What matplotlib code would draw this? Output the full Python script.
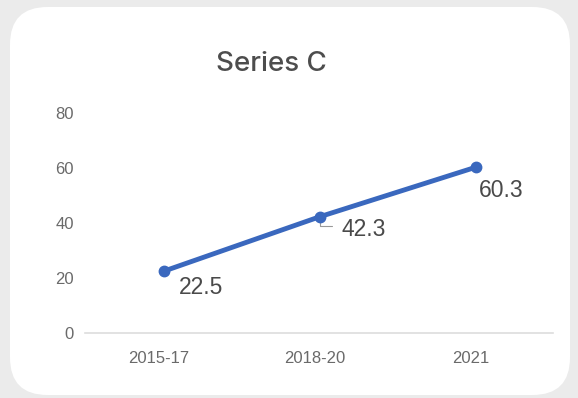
import matplotlib.pyplot as plt
from matplotlib.patches import FancyBboxPatch
from matplotlib.transforms import ScaledTranslation

# Data
categories = ['2015-17', '2018-20', '2021']
values = [22.5, 42.3, 60.3]
label_offsets = [(26.5, -12), (31.5, -9), (18.5, -16.5)]

plt.rcParams['font.family'] = ['Liberation Sans', 'DejaVu Sans']

fig = plt.figure(figsize=(5.78, 3.98), dpi=100)
fig.patch.set_facecolor('#ebebeb')

# white rounded card
card = FancyBboxPatch((10 / 578, 3 / 398), 560 / 578, 388 / 398,
                      boxstyle='round,pad=0,rounding_size=0.065',
                      transform=fig.transFigure, facecolor='white',
                      edgecolor='none', mutation_aspect=578 / 398, zorder=-10)
fig.patches.append(card)

ax = fig.add_axes([85 / 578, 65 / 398, 468 / 578, 220 / 398])
ax.set_facecolor('none')

x = range(len(categories))
ax.plot(x, values, color='#3a68be', lw=3.5, marker='o', ms=7.5, zorder=3)

for i, (v, off) in enumerate(zip(values, label_offsets)):
    ax.annotate(f'{v}', (i, v), xytext=off, textcoords='offset points',
                ha='center', va='center', fontsize=16.5, color='#4a4a4a')

# leader line for the middle label
ax.annotate('', (1, values[1]), xytext=(8.5, -6.5), textcoords='offset points',
            arrowprops=dict(arrowstyle='-', color='#999999', lw=0.8,
                            connectionstyle='angle,angleA=0,angleB=90,rad=0',
                            shrinkA=0, shrinkB=0), zorder=2)

ax.set_xlim(-0.506, 2.494)
ax.set_ylim(0, 80)
ax.set_xticks(list(x))
ax.set_xticklabels(categories)
ax.set_yticks([0, 20, 40, 60, 80])

for s in ['top', 'right', 'left']:
    ax.spines[s].set_visible(False)
ax.spines['bottom'].set_color('#dddddd')
ax.spines['bottom'].set_linewidth(1.2)
ax.tick_params(axis='both', length=0, labelsize=12, labelcolor='#6a6a6a')
ax.tick_params(axis='y', pad=8)
ax.tick_params(axis='x', pad=13)
shift = ScaledTranslation(-5 / 100, 0, fig.dpi_scale_trans)
for lbl in ax.get_xticklabels():
    lbl.set_transform(lbl.get_transform() + shift)

fig.text(271 / 578, 334 / 398, 'Series C', ha='center', va='center',
         fontsize=20, color='#4d4d4d', family=['Inter', 'DejaVu Sans'],
         fontweight='medium')

plt.savefig('out.png', dpi=100, facecolor=fig.get_facecolor())
